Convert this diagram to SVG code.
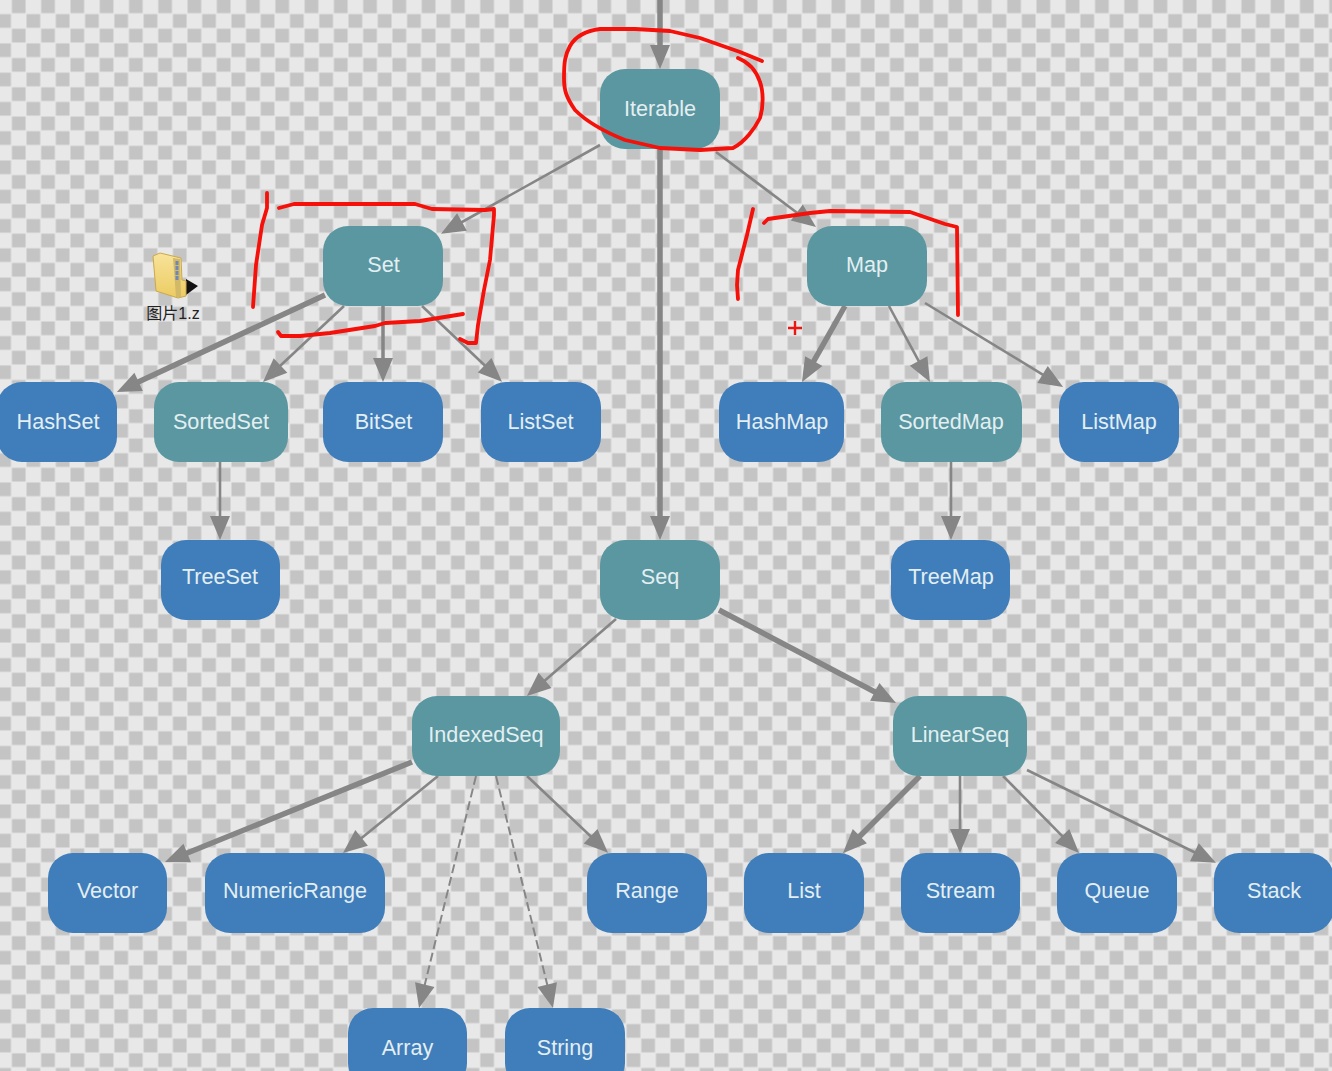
<svg xmlns="http://www.w3.org/2000/svg" width="1332" height="1071" viewBox="0 0 1332 1071">
<style>
.n{rx:25px;ry:25px}
.teal{fill:#5a97a0}
.blue{fill:#3f7dbb}
text.l{font-family:"Liberation Sans",Arial,sans-serif;font-size:21.6px;fill:#e3eff2;text-anchor:middle}
#edges line{stroke:#868686;stroke-width:2.6;marker-end:url(#ah)}
#edges line.w3{stroke-width:3.5}
#edges line.w5{stroke-width:5.5}
#edges line.d{stroke-dasharray:9 4;stroke-width:2}
.red{fill:none;stroke:#f5100a;stroke-width:3.8;stroke-linecap:round;stroke-linejoin:round}
</style>
<defs>
<pattern id="ck" patternUnits="userSpaceOnUse" width="29.274" height="29.274" x="-3.2" y="-1">
<rect width="29.274" height="29.274" fill="#e8e8e8"/>
<rect x="15.137" y="0.5" width="13.637" height="13.637" fill="#c4c4c4"/>
<rect x="0.5" y="15.137" width="13.637" height="13.637" fill="#c4c4c4"/>
</pattern>
<marker id="ah" markerUnits="userSpaceOnUse" markerWidth="30" markerHeight="22" refX="4" refY="11" orient="auto" overflow="visible">
<path d="M0,1 L0,21 L24,11 Z" fill="#868686"/>
</marker>
<linearGradient id="fg" x1="0" y1="0" x2="0" y2="1"><stop offset="0" stop-color="#f8e39a"/><stop offset="1" stop-color="#eccb62"/></linearGradient>
</defs>
<rect id="bg" width="1332" height="1071" fill="url(#ck)"/>
<g id="edges">
<line class="w5" x1="660" y1="0" x2="660" y2="49"/>
<line x1="600" y1="145" x2="458.500" y2="224"/>
<line x1="716" y1="152" x2="800" y2="215"/>
<line class="w5" x1="660" y1="149" x2="660" y2="520"/>
<line class="w5" x1="325" y1="295" x2="135" y2="383.500"/>
<line x1="344" y1="306" x2="277.600" y2="368.300"/>
<line class="w3" x1="383" y1="306" x2="383" y2="362"/>
<line x1="422" y1="306" x2="487.500" y2="368"/>
<line class="w5" x1="845" y1="306" x2="811.800" y2="364.600"/>
<line x1="889" y1="306" x2="920.500" y2="364.400"/>
<line x1="925" y1="303" x2="1046" y2="376.600"/>
<line x1="220" y1="462" x2="220" y2="520"/>
<line x1="951" y1="462" x2="951" y2="520"/>
<line x1="616" y1="619" x2="542" y2="683"/>
<line class="w5" x1="719" y1="610" x2="878.300" y2="693.700"/>
<line class="w5" x1="412" y1="762" x2="183.500" y2="854.500"/>
<line x1="438" y1="776" x2="358.500" y2="840.400"/>
<line x1="527" y1="776" x2="593.500" y2="839"/>
<line class="d" x1="476" y1="776" x2="423.800" y2="988.600"/>
<line class="d" x1="496" y1="776" x2="548.200" y2="988.600"/>
<line class="w5" x1="920" y1="776" x2="857" y2="839"/>
<line x1="960" y1="776" x2="960" y2="833"/>
<line x1="1003" y1="776" x2="1065" y2="838.800"/>
<line x1="1027" y1="770" x2="1198" y2="854"/>
</g>
<g id="Iterable"><rect class="n teal" x="600" y="69" width="120" height="80"/><text class="l" x="660" y="116">Iterable</text></g>
<g id="Set"><rect class="n teal" x="323" y="226" width="120" height="80"/><text class="l" x="383.500" y="272">Set</text></g>
<g id="Map"><rect class="n teal" x="807" y="226" width="120" height="80"/><text class="l" x="867" y="272">Map</text></g>
<g id="HashSet"><rect class="n blue" x="-3" y="382" width="120" height="80"/><text class="l" x="58" y="429">HashSet</text></g>
<g id="SortedSet"><rect class="n teal" x="154" y="382" width="134" height="80"/><text class="l" x="221" y="429">SortedSet</text></g>
<g id="BitSet"><rect class="n blue" x="323" y="382" width="120" height="80"/><text class="l" x="383.500" y="429">BitSet</text></g>
<g id="ListSet"><rect class="n blue" x="481" y="382" width="120" height="80"/><text class="l" x="540.500" y="429">ListSet</text></g>
<g id="HashMap"><rect class="n blue" x="719" y="382" width="125" height="80"/><text class="l" x="782" y="429">HashMap</text></g>
<g id="SortedMap"><rect class="n teal" x="881" y="382" width="141" height="80"/><text class="l" x="951" y="429">SortedMap</text></g>
<g id="ListMap"><rect class="n blue" x="1059" y="382" width="120" height="80"/><text class="l" x="1119" y="429">ListMap</text></g>
<g id="TreeSet"><rect class="n blue" x="161" y="540" width="119" height="80"/><text class="l" x="220" y="584">TreeSet</text></g>
<g id="Seq"><rect class="n teal" x="600" y="540" width="120" height="80"/><text class="l" x="660" y="584">Seq</text></g>
<g id="TreeMap"><rect class="n blue" x="891" y="540" width="119" height="80"/><text class="l" x="951" y="584">TreeMap</text></g>
<g id="IndexedSeq"><rect class="n teal" x="412" y="696" width="148" height="80"/><text class="l" x="486" y="742">IndexedSeq</text></g>
<g id="LinearSeq"><rect class="n teal" x="893" y="696" width="134" height="80"/><text class="l" x="960" y="742">LinearSeq</text></g>
<g id="Vector"><rect class="n blue" x="48" y="853" width="119" height="80"/><text class="l" x="107.500" y="898">Vector</text></g>
<g id="NumericRange"><rect class="n blue" x="205" y="853" width="180" height="80"/><text class="l" x="295" y="898">NumericRange</text></g>
<g id="Range"><rect class="n blue" x="587" y="853" width="120" height="80"/><text class="l" x="647" y="898">Range</text></g>
<g id="List"><rect class="n blue" x="744" y="853" width="120" height="80"/><text class="l" x="804" y="898">List</text></g>
<g id="Stream"><rect class="n blue" x="901" y="853" width="119" height="80"/><text class="l" x="960.500" y="898">Stream</text></g>
<g id="Queue"><rect class="n blue" x="1057" y="853" width="120" height="80"/><text class="l" x="1117" y="898">Queue</text></g>
<g id="Stack"><rect class="n blue" x="1214" y="853" width="120" height="80"/><text class="l" x="1274" y="898">Stack</text></g>
<g id="Array"><rect class="n blue" x="348" y="1008" width="119" height="80"/><text class="l" x="407.500" y="1055">Array</text></g>
<g id="String"><rect class="n blue" x="505" y="1008" width="120" height="80"/><text class="l" x="565" y="1055">String</text></g>
<g id="annotations">
<path class="red" d="M762,61 L740,52 L720,45 L700,38 L670,31 L635,29 L600,29 C585,31 575,37 570,46 C565,55 564,62 564,78 C564,90 566,97 575,110 C585,120 600,130 625,140 L660,148 L700,150 L733,148 C745,142 755,128 760,118 C764,105 763,90 760,82 C756,70 748,62 738,58"/>
<path class="red" d="M267,193 L267,208 L262,225 L256,265 L253,307"/>
<path class="red" d="M279,208 L294,204 L415,204 L432,209 L485,210 L494,209 L494,215 L490,260 L484,290 L478,325 L476,343 L468,343 L460,339"/>
<path class="red" d="M278,332 L281,336 L300,336 L330,333 L375,326 L385,323 L420,321 L463,314"/>
<path class="red" d="M753,209 L747,235 L738,270 L737,285 L738,299"/>
<path class="red" d="M764,223 L768,219 L810,213 L830,211 L910,212 L945,224 L957,227 L958,315"/>
<path d="M795,321 V335 M788,328 H802" fill="none" stroke="#ee1410" stroke-width="2.400"/>
</g>
<g id="folder">
<path d="M186,279 L198,286 L186,295 Z" fill="#111"/>
<path d="M153,256 L160,253 L181,258 L182,280 L186,281 L186,296 L178,298 L156,291 Z" fill="url(#fg)" stroke="#c9a94e" stroke-width="1"/>
<path d="M173,258 L180,259 L181,297 L176,297 Z" fill="#d2b968"/>
<path d="M177,261 V281" stroke="#6d88b5" stroke-width="3" stroke-dasharray="4 1"/>
<text x="173" y="319" font-family="'Liberation Sans','Noto Sans CJK SC',sans-serif" font-size="16" fill="#222" text-anchor="middle">图片1.z</text>
</g>
</svg>
